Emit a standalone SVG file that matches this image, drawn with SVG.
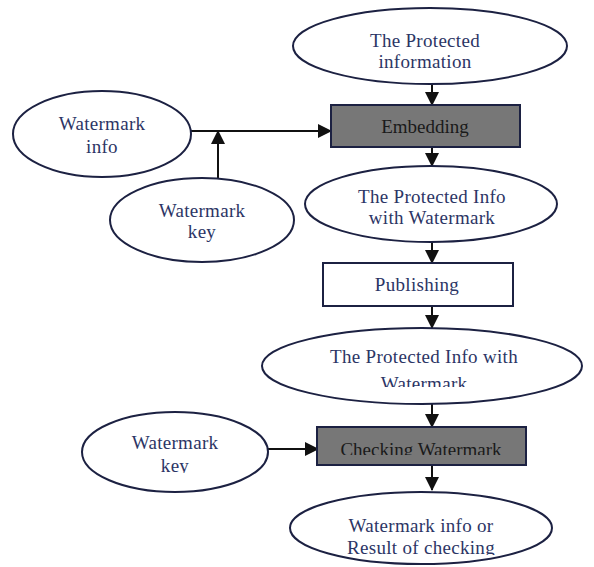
<svg xmlns="http://www.w3.org/2000/svg" width="594" height="567" viewBox="0 0 594 567">
<style>
.n{fill:#fff;stroke:#1c2142;stroke-width:2}
.g{fill:#777;stroke:#1c2142;stroke-width:2}
.t{font-family:"Liberation Serif","Times New Roman",serif;font-size:19px;letter-spacing:0.3px;fill:#2c3565;text-anchor:middle}
.k{fill:#1a1a1a;letter-spacing:0}
.c{stroke:#111;stroke-width:2;fill:none}
</style>
<defs>
<marker id="ah" markerUnits="userSpaceOnUse" markerWidth="14" markerHeight="14" refX="13" refY="7" orient="auto">
<path d="M0,0 L14,7 L0,14 Z" fill="#111"/>
</marker>
<clipPath id="c3"><rect x="0" y="0" width="594" height="387"/></clipPath>
<clipPath id="c4"><rect x="0" y="0" width="594" height="455"/></clipPath>
<clipPath id="c5"><rect x="0" y="0" width="594" height="473"/></clipPath>
<clipPath id="c6"><rect x="0" y="0" width="594" height="555"/></clipPath>
</defs>
<g id="connectors">
<line class="c" x1="432" y1="84" x2="432" y2="105" marker-end="url(#ah)"/>
<line class="c" x1="191" y1="131" x2="331" y2="131" marker-end="url(#ah)"/>
<line class="c" x1="218" y1="178" x2="218" y2="131" marker-end="url(#ah)"/>
<line class="c" x1="432" y1="147" x2="432" y2="166" marker-end="url(#ah)"/>
<line class="c" x1="432" y1="243" x2="432" y2="263" marker-end="url(#ah)"/>
<line class="c" x1="432" y1="306" x2="432" y2="328" marker-end="url(#ah)"/>
<line class="c" x1="432" y1="404" x2="432" y2="427" marker-end="url(#ah)"/>
<line class="c" x1="267" y1="449" x2="318" y2="449" marker-end="url(#ah)"/>
<line class="c" x1="432" y1="465" x2="432" y2="490" marker-end="url(#ah)"/>
</g>
<g id="protected-info">
<ellipse class="n" cx="430" cy="46" rx="137" ry="38"/>
<text class="t" x="425" y="47">The Protected</text>
<text class="t" x="425" y="68">information</text>
</g>
<g id="embedding">
<rect class="g" x="331" y="105" width="189" height="42"/>
<text class="t k" x="425" y="133">Embedding</text>
</g>
<g id="watermark-info">
<ellipse class="n" cx="102" cy="134" rx="89" ry="43"/>
<text class="t" x="102" y="130">Watermark</text>
<text class="t" x="102" y="153">info</text>
</g>
<g id="watermark-key-1">
<ellipse class="n" cx="202" cy="220" rx="92" ry="42"/>
<text class="t" x="202" y="217">Watermark</text>
<text class="t" x="202" y="238">key</text>
</g>
<g id="protected-wm-1">
<ellipse class="n" cx="431" cy="204" rx="126" ry="38"/>
<text class="t" x="432" y="203">The Protected Info</text>
<text class="t" x="432" y="224">with Watermark</text>
</g>
<g id="publishing">
<rect class="n" x="323" y="263" width="190" height="43"/>
<text class="t" x="417" y="291">Publishing</text>
</g>
<g id="protected-wm-2">
<ellipse class="n" cx="422" cy="366" rx="160" ry="38"/>
<g clip-path="url(#c3)">
<text class="t" x="424" y="363">The Protected Info with</text>
<text class="t" x="424" y="390">Watermark</text>
</g>
</g>
<g id="checking">
<rect class="g" x="317" y="427" width="209" height="38"/>
<g clip-path="url(#c4)">
<text class="t k" x="421" y="456">Checking Watermark</text>
</g>
</g>
<g id="watermark-key-2">
<ellipse class="n" cx="175" cy="452" rx="93" ry="40"/>
<g clip-path="url(#c5)">
<text class="t" x="175" y="449">Watermark</text>
<text class="t" x="175" y="472">key</text>
</g>
</g>
<g id="result">
<ellipse class="n" cx="421" cy="528" rx="131" ry="36"/>
<g clip-path="url(#c6)">
<text class="t" x="421" y="532">Watermark info or</text>
<text class="t" x="421" y="554">Result of checking</text>
</g>
</g>
</svg>
